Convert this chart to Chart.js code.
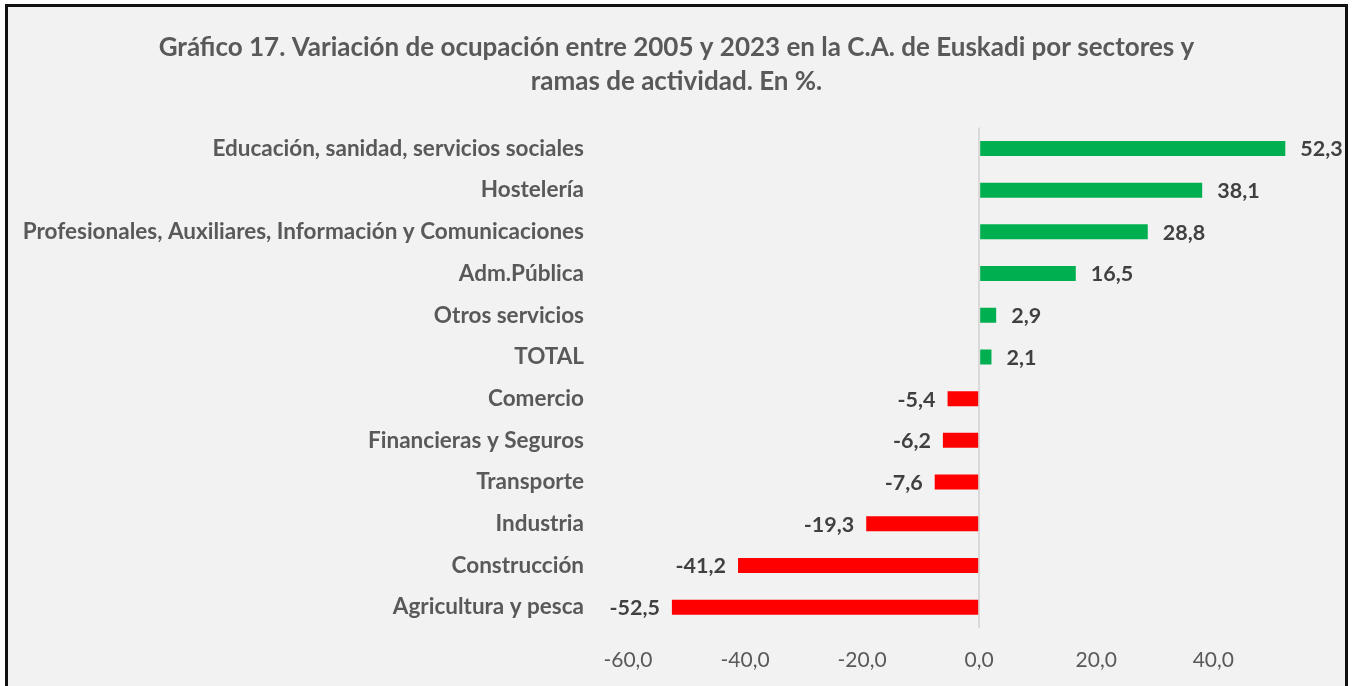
<!DOCTYPE html>
<html>
<head>
<meta charset="utf-8">
<script src="https://cdn.jsdelivr.net/npm/chart.js@4.4.0/dist/chart.umd.min.js"></script>
<style>
  html, body { margin: 0; padding: 0; background: #fff; overflow: hidden; }
  #marco {
    position: absolute; left: 5px; top: 4px;
    width: 1337px; height: 690px;
    border: 3px solid #111; border-bottom: none;
    background: #f2f2f2;
  }
</style>
</head>
<body>
<div id="marco"><canvas id="grafico" width="1337" height="679"></canvas></div>
<script>
// --- Datos ---
const sectores = [
    'Educación, sanidad, servicios sociales',
    'Hostelería',
    'Profesionales, Auxiliares, Información y Comunicaciones',
    'Adm.Pública',
    'Otros servicios',
    'TOTAL',
    'Comercio',
    'Financieras y Seguros',
    'Transporte',
    'Industria',
    'Construcción',
    'Agricultura y pesca'
];
const variacion = [52.3, 38.1, 28.8, 16.5, 2.9, 2.1, -5.4, -6.2, -7.6, -19.3, -41.2, -52.5];
const ticksEje = [-60, -40, -20, 0, 20, 40];

const titulo = [
    'Gráfico 17. Variación de ocupación entre 2005 y 2023 en la C.A. de Euskadi por sectores y',
    'ramas de actividad. En %.'
];

// formato con coma decimal
const fmt = v => v.toFixed(1).replace('.', ',');

// Etiquetas de valor al final de cada barra
const etiquetasBarras = {
    id: 'etiquetasBarras',
    afterDatasetsDraw(chart) {
        const ctx = chart.ctx;
        const meta = chart.getDatasetMeta(0);
        ctx.save();
        ctx.font = 'bold 21.5px Lato';
        ctx.fillStyle = '#404040';
        ctx.textBaseline = 'middle';
        meta.data.forEach((bar, i) => {
            const v = variacion[i];
            if (v >= 0) {
                ctx.textAlign = 'left';
                ctx.fillText(fmt(v), bar.x + 15, bar.y + 1);
            } else {
                ctx.textAlign = 'right';
                ctx.fillText(fmt(v), bar.x - 12, bar.y + 1);
            }
        });
        ctx.restore();
    }
};

const ctx = document.getElementById('grafico').getContext('2d');

const grafico = new Chart(ctx, {
    type: 'bar',
    data: {
        labels: sectores,
        datasets: [{
            data: variacion,
            backgroundColor: variacion.map(v => v >= 0 ? '#00b050' : '#ff0000'),
            barPercentage: 0.36,
            categoryPercentage: 1
        }]
    },
    options: {
        indexAxis: 'y',
        responsive: false,
        animation: false,
        layout: { padding: { left: 0, right: 0, top: 0, bottom: 14 } },
        plugins: {
            legend: { display: false },
            tooltip: { enabled: false },
            title: {
                display: true,
                text: titulo,
                color: '#595959',
                font: { family: 'Lato', size: 26, weight: 'bold', lineHeight: 1.3 },
                padding: { top: 24, bottom: 29 }
            }
        },
        scales: {
            x: {
                min: -60,
                max: 62.5,
                // solo se muestran las marcas de -60 a 40
                afterBuildTicks: s => { s.ticks = ticksEje.map(v => ({ value: v })); },
                afterFit: s => { s.height = 44; },
                ticks: {
                    callback: v => fmt(v),
                    color: '#595959',
                    font: { family: 'Lato', size: 21 },
                    padding: 20,
                    maxRotation: 0
                },
                grid: {
                    color: c => (c.tick && c.tick.value === 0) ? '#d9d9d9' : 'rgba(0,0,0,0)',
                    lineWidth: 2,
                    drawTicks: false
                },
                border: { display: false }
            },
            y: {
                afterFit: s => { s.width = 620; },
                ticks: {
                    color: '#595959',
                    font: { family: 'Lato', size: 22.5, weight: 'bold' },
                    padding: 44
                },
                grid: { display: false, drawTicks: false },
                border: { display: false }
            }
        }
    },
    plugins: [etiquetasBarras]
});
</script>
</body>
</html>
